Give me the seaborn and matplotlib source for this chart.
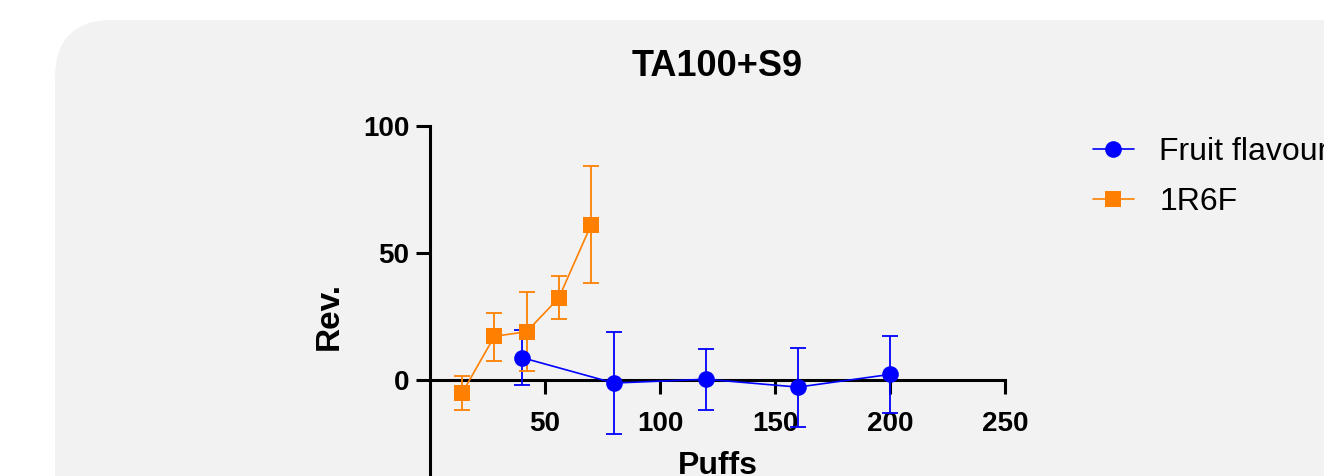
import matplotlib
matplotlib.use("Agg")
import matplotlib.pyplot as plt
from matplotlib.patches import FancyBboxPatch
import seaborn as sns
import pandas as pd

# ---- data ----
fruit_x = [40, 80, 120, 160, 200]
fruit_y = [8.8, -1.2, 0.3, -2.8, 2.2]
fruit_hi = [19.7, 18.8, 12.2, 12.5, 17.4]
fruit_lo = [-2.0, -21.3, -11.8, -18.4, -13.0]

ref_x = [14, 28, 42, 56, 70]
ref_y = [-5.1, 17.2, 19.0, 32.3, 61.0]
ref_hi = [1.7, 26.5, 34.8, 40.8, 84.1]
ref_lo = [-11.7, 7.6, 3.5, 24.0, 38.2]

series_names = ["Fruit flavour", "1R6F"]
series_colors = ["#0000FF", "#FF8000"]
series_markers = ["o", "s"]
x_ticks = [50, 100, 150, 200, 250]
y_ticks = [0, 50, 100]
title = "TA100+S9"
x_label = "Puffs"
y_label = "Rev."

sns.set_theme(style="white")
plt.rcParams["font.family"] = ["Liberation Sans", "DejaVu Sans"]

W, H = 1324, 476
fig = plt.figure(figsize=(W / 100, H / 100), dpi=100, facecolor="white")

# rounded gray background panel (in inches)
panel = FancyBboxPatch((0.55, -1.0), 14.0, 4.56 + 1.0, boxstyle="round,pad=0,rounding_size=0.58",
                       transform=fig.dpi_scale_trans, facecolor="#F2F2F2", edgecolor="none", zorder=-10)
fig.patches.append(panel)

# axes placement in pixels
left_px, right_px = 430, 1005
top_px = 126
ymin, ymax = -50, 100
px_per_unit = 2.54
bottom_px = top_px + (ymax - ymin) * px_per_unit
ax = fig.add_axes([left_px / W, 1 - bottom_px / H, (right_px - left_px) / W, (bottom_px - top_px) / H])
ax.set_zorder(5)
ax.set_facecolor("none")
ax.patch.set_alpha(0)

df = pd.concat([
    pd.DataFrame({"x": fruit_x, "y": fruit_y, "s": series_names[0]}),
    pd.DataFrame({"x": ref_x, "y": ref_y, "s": series_names[1]}),
])

data = [(fruit_x, fruit_y, fruit_lo, fruit_hi), (ref_x, ref_y, ref_lo, ref_hi)]
for (xs, ys, lo, hi), name, col, mk in zip(data, series_names, series_colors, series_markers):
    sub = df[df["s"] == name]
    yerr = [[y - l for y, l in zip(ys, lo)], [h - y for y, h in zip(ys, hi)]]
    ax.errorbar(xs, ys, yerr=yerr, fmt="none", ecolor=col, elinewidth=1.3, capsize=5.5,
                capthick=1.3, zorder=3)
    sns.lineplot(data=sub, x="x", y="y", ax=ax, color=col, marker=mk, markersize=12,
                 markeredgewidth=0, linewidth=1.2, label=name, zorder=4, sort=False)

ax.set_xlim(0, 250)
ax.set_ylim(ymin, ymax)
ax.set_xticks(x_ticks)
ax.set_yticks(y_ticks)

for side in ["top", "right"]:
    ax.spines[side].set_visible(False)
ax.spines["bottom"].set_position(("data", 0))
for side in ["left", "bottom"]:
    ax.spines[side].set_linewidth(2.2)
    ax.spines[side].set_color("black")
    ax.spines[side].set_zorder(2)

ax.tick_params(axis="both", direction="out", length=10, width=2.2, color="black",
               labelsize=20, labelcolor="black", bottom=True, left=True)
ax.tick_params(axis="x", pad=12.5)
ax.tick_params(axis="y", pad=5)
for lbl in ax.get_xticklabels() + ax.get_yticklabels():
    lbl.set_fontweight("bold")

ax.set_xlabel(x_label, fontsize=23, fontweight="bold", labelpad=10, color="black")
ax.set_ylabel(y_label, fontsize=24, fontweight="bold", labelpad=13, color="black")
ax.set_title(title, fontsize=26, fontweight="bold", pad=36, color="black")

leg = ax.legend(loc="upper left", bbox_to_anchor=(1093 / W, 1 - 137 / H), bbox_transform=fig.transFigure,
                frameon=False, fontsize=23, handlelength=1.28, handletextpad=0.8, labelspacing=0.64,
                borderpad=0, borderaxespad=0)
for t in leg.get_texts():
    t.set_color("black")

fig.savefig("out.png", dpi=100, facecolor="white")
